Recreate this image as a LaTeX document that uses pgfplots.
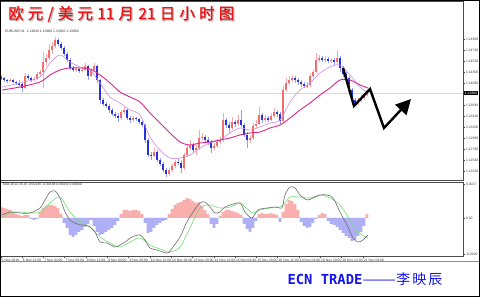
\documentclass[border=0pt]{standalone}
\usepackage{fontspec}
\setmainfont{Liberation Sans}
\newfontfamily\cjk{Noto Sans CJK SC}
\newfontfamily\cjktitle[FakeBold=1.2]{Noto Sans CJK SC}
\newfontfamily\ecnmono{DejaVu Sans Mono}
\usepackage{graphicx}
\usepackage{pgfplots}
\pgfplotsset{compat=1.18}
\usepackage{pgfplotstable}
\usetikzlibrary{arrows.meta}

\definecolor{upbody}{RGB}{242,110,110}
\definecolor{upwick}{RGB}{248,170,170}
\definecolor{dnbody}{RGB}{40,50,220}
\definecolor{dnwick}{RGB}{150,160,240}
\definecolor{mafast}{RGB}{210,140,230}
\definecolor{maslow}{RGB}{215,40,140}
\definecolor{hpos}{RGB}{250,175,175}
\definecolor{hneg}{RGB}{175,175,245}
\definecolor{macdgrey}{RGB}{110,110,110}
\definecolor{macdgreen}{RGB}{110,225,110}
\definecolor{bidline}{RGB}{250,200,200}
\definecolor{titlered}{RGB}{235,20,20}
\definecolor{ecnblue}{RGB}{20,20,235}

% rising candles: x open high low close
\pgfplotstableread{
x o h l c
10 1.1412 1.1418 1.1410 1.1414
25 1.1398 1.1428 1.1396 1.1422
34 1.1414 1.1420 1.1412 1.1416
37 1.1416 1.1430 1.1414 1.1426
40 1.1426 1.1434 1.1422 1.1430
43 1.1430 1.1470 1.1398 1.1450
46 1.1450 1.1466 1.1442 1.1458
49 1.1458 1.1486 1.1454 1.1474
52 1.1474 1.1490 1.1466 1.1482
55 1.1482 1.1500 1.1478 1.1494
76 1.1434 1.1440 1.1430 1.1436
82 1.1432 1.1438 1.1430 1.1434
85 1.1434 1.1448 1.1432 1.1442
91 1.1422 1.1438 1.1420 1.1434
94 1.1434 1.1448 1.1430 1.1442
121 1.1338 1.1354 1.1334 1.1350
124 1.1350 1.1360 1.1346 1.1354
133 1.1334 1.1342 1.1330 1.1338
154 1.1262 1.1278 1.1260 1.1270
169 1.1226 1.1238 1.1222 1.1234
172 1.1234 1.1246 1.1230 1.1242
175 1.1242 1.1254 1.1238 1.1250
184 1.1238 1.1268 1.1234 1.1264
187 1.1264 1.1284 1.1260 1.1278
190 1.1278 1.1294 1.1274 1.1284
196 1.1274 1.1284 1.1264 1.1278
199 1.1278 1.1314 1.1274 1.1298
202 1.1298 1.1308 1.1294 1.1300
214 1.1278 1.1288 1.1274 1.1282
217 1.1282 1.1296 1.1278 1.1290
220 1.1290 1.1300 1.1286 1.1294
223 1.1294 1.1348 1.1290 1.1334
232 1.1318 1.1340 1.1314 1.1330
238 1.1326 1.1344 1.1322 1.1334
250 1.1294 1.1304 1.1288 1.1298
253 1.1298 1.1328 1.1294 1.1322
256 1.1322 1.1334 1.1318 1.1326
259 1.1326 1.1360 1.1324 1.1344
265 1.1334 1.1344 1.1330 1.1338
271 1.1334 1.1348 1.1332 1.1342
274 1.1342 1.1358 1.1338 1.1350
283 1.1332 1.1402 1.1330 1.1394
286 1.1394 1.1418 1.1390 1.1408
289 1.1408 1.1422 1.1404 1.1414
292 1.1414 1.1424 1.1410 1.1418
307 1.1402 1.1410 1.1398 1.1404
310 1.1404 1.1428 1.1400 1.1422
313 1.1422 1.1434 1.1418 1.1430
316 1.1430 1.1468 1.1428 1.1454
319 1.1454 1.1464 1.1450 1.1458
325 1.1454 1.1460 1.1450 1.1456
331 1.1452 1.1458 1.1448 1.1454
337 1.1450 1.1474 1.1446 1.1458
358 1.1368 1.1378 1.1364 1.1374
361 1.1374 1.1384 1.1370 1.1378
364 1.1378 1.1388 1.1374 1.1384
367 1.1384 1.1390 1.1382 1.1388
}\upC

% falling candles: x open high low close
\pgfplotstableread{
x o h l c
1 1.1420 1.1424 1.1414 1.1418
4 1.1418 1.1420 1.1410 1.1414
7 1.1414 1.1416 1.1408 1.1412
13 1.1414 1.1416 1.1408 1.1410
16 1.1410 1.1412 1.1404 1.1408
19 1.1408 1.1414 1.1402 1.1406
22 1.1406 1.1408 1.1390 1.1398
28 1.1422 1.1426 1.1414 1.1418
31 1.1418 1.1420 1.1410 1.1414
58 1.1494 1.1498 1.1482 1.1486
61 1.1486 1.1490 1.1474 1.1478
64 1.1478 1.1482 1.1462 1.1466
67 1.1466 1.1470 1.1450 1.1454
70 1.1454 1.1458 1.1434 1.1438
73 1.1438 1.1442 1.1430 1.1434
79 1.1436 1.1438 1.1428 1.1432
88 1.1442 1.1444 1.1414 1.1422
97 1.1442 1.1444 1.1408 1.1414
100 1.1414 1.1416 1.1366 1.1374
103 1.1374 1.1378 1.1362 1.1366
106 1.1366 1.1370 1.1358 1.1362
109 1.1362 1.1366 1.1348 1.1354
112 1.1354 1.1358 1.1342 1.1346
115 1.1346 1.1350 1.1338 1.1342
118 1.1342 1.1348 1.1330 1.1338
127 1.1354 1.1358 1.1334 1.1338
130 1.1338 1.1342 1.1328 1.1334
136 1.1338 1.1340 1.1332 1.1336
139 1.1336 1.1338 1.1326 1.1330
142 1.1330 1.1334 1.1320 1.1324
145 1.1324 1.1326 1.1288 1.1294
148 1.1294 1.1298 1.1260 1.1264
151 1.1264 1.1270 1.1254 1.1262
157 1.1270 1.1274 1.1250 1.1254
160 1.1254 1.1258 1.1242 1.1246
163 1.1246 1.1250 1.1230 1.1234
166 1.1234 1.1238 1.1220 1.1226
178 1.1250 1.1258 1.1244 1.1248
181 1.1248 1.1254 1.1228 1.1238
193 1.1284 1.1288 1.1268 1.1274
205 1.1300 1.1304 1.1288 1.1294
208 1.1294 1.1300 1.1284 1.1290
211 1.1290 1.1294 1.1268 1.1278
226 1.1334 1.1338 1.1318 1.1324
229 1.1324 1.1330 1.1308 1.1318
235 1.1330 1.1334 1.1320 1.1326
241 1.1334 1.1354 1.1320 1.1324
244 1.1324 1.1328 1.1300 1.1304
247 1.1304 1.1310 1.1278 1.1294
262 1.1344 1.1348 1.1328 1.1334
268 1.1338 1.1342 1.1330 1.1334
277 1.1350 1.1354 1.1340 1.1346
280 1.1346 1.1350 1.1326 1.1332
295 1.1418 1.1422 1.1408 1.1414
298 1.1414 1.1418 1.1404 1.1410
301 1.1410 1.1414 1.1400 1.1406
304 1.1406 1.1410 1.1398 1.1402
322 1.1458 1.1462 1.1450 1.1454
328 1.1456 1.1460 1.1448 1.1452
334 1.1454 1.1458 1.1444 1.1450
340 1.1458 1.1462 1.1430 1.1438
343 1.1438 1.1442 1.1420 1.1426
346 1.1426 1.1430 1.1414 1.1418
349 1.1418 1.1422 1.1390 1.1394
352 1.1394 1.1398 1.1368 1.1374
355 1.1374 1.1378 1.1364 1.1368
}\dnC

% MACD histogram
\pgfplotstableread{
x m
1 0.00088
4 0.0008
7 0.00072
10 0.00064
13 0.00048
16 0.00032
19 0.00024
22 0.00016
25 0.00024
28 0.00024
31 -0.00008
34 -0.00016
37 -0.00008
40 0.00048
43 0.0008
46 0.00096
49 0.00104
52 0.00104
55 0.00096
58 0.0008
61 0.00032
64 -0.0004
67 -0.0008
70 -0.00136
73 -0.00152
76 -0.00136
79 -0.00112
82 -0.00096
85 -0.00072
88 -0.00048
91 -0.00016
94 -0.00064
97 -0.00112
100 -0.00136
103 -0.00128
106 -0.00112
109 -0.00096
112 -0.0008
115 -0.00056
118 -0.00024
121 0.00032
124 0.00064
127 0.00064
130 0.00056
133 0.00064
136 0.00064
139 0.00056
142 0.00032
145 -0.0004
148 -0.0012
151 -0.00112
154 -0.0008
157 -0.00056
160 -0.0004
163 -0.00024
166 -0.00016
169 0.00032
172 0.00072
175 0.00104
178 0.0012
181 0.00128
184 0.00144
187 0.0016
190 0.00152
193 0.00136
196 0.0012
199 0.00128
202 0.00096
205 0.00064
208 0.00032
211 -0.00048
214 -0.0008
217 -0.00048
220 0.00016
223 0.00048
226 0.00064
229 0.00064
232 0.00056
235 0.00048
238 0.0004
241 0.00024
244 -0.00048
247 -0.00088
250 -0.00112
253 -0.0008
256 -0.00024
259 0.00032
262 0.0004
265 0.00032
268 0.00032
271 0.0004
274 0.00032
277 0.00024
280 -0.00032
283 0.00048
286 0.00112
289 0.00144
292 0.00136
295 0.00112
298 0.00064
301 -0.00032
304 -0.00064
307 -0.0008
310 -0.00072
313 -0.0004
316 -0.00008
319 0.00024
322 0.0004
325 0.00032
328 -0.00024
331 -0.00048
334 -0.00056
337 -0.00072
340 -0.00096
343 -0.0012
346 -0.00144
349 -0.0016
352 -0.00184
355 -0.00176
358 -0.00144
361 -0.00112
364 -0.00064
367 0.00032
}\histT

\newcommand\tinyfont{\fontsize{3.4}{3.8}\selectfont}
\newcommand\titletext{\fontsize{15.5}{16}\selectfont 欧\kern4.2pt 元\kern4.2pt /\kern4.2pt 美\kern4.2pt 元\kern4.2pt 11\kern4.2pt 月\kern4.2pt 21\kern4.2pt 日\kern4.2pt 小\kern4.2pt 时\kern4.2pt 图}

\begin{document}
\begin{tikzpicture}[x=1pt,y=1pt]
\path[use as bounding box] (0,0) rectangle (480,297);
\fill[white] (0,0) rectangle (480,297);

% ---------- price pane ----------
\begin{axis}[
  at={(0pt,117pt)}, anchor=south west,
  scale only axis, width=463pt, height=179pt,
  xmin=0, xmax=463, ymin=1.1214, ymax=1.1572,
  axis line style={black!70, line width=0.6pt},
  xtick=\empty,
  ytick={1.1496,1.1474,1.1452,1.1430,1.1408,1.1364,1.1342,1.1320,1.1298,1.1276,1.1254,1.1232},
  ytick pos=right, yticklabel pos=right,
  tick align=outside, major tick length=1.8pt,
  tick style={black!70, line width=0.4pt},
  yticklabel style={font=\tinyfont, text=black!75, inner sep=1pt,
    /pgf/number format/.cd, fixed, fixed zerofill, precision=5, assume math mode=true},
  scaled y ticks=false,
  candle/.style={mark=none, draw=none, forget plot, error bars/.cd, y dir=both, y explicit, error mark=none},
]
\addplot[bidline, line width=0.5pt, forget plot] coordinates {(0,1.1388) (463,1.1388)};
% wicks
\addplot[candle, error bar style={draw=upwick, line width=0.5pt}]
  table[x=x, y expr={(\thisrow{h}+\thisrow{l})/2}, y error expr={(\thisrow{h}-\thisrow{l})/2}] {\upC};
\addplot[candle, error bar style={draw=dnwick, line width=0.5pt}]
  table[x=x, y expr={(\thisrow{h}+\thisrow{l})/2}, y error expr={(\thisrow{h}-\thisrow{l})/2}] {\dnC};
% bodies
\addplot[candle, error bar style={draw=upbody, line width=2.3pt}]
  table[x=x, y expr={(\thisrow{o}+\thisrow{c})/2}, y error expr={(\thisrow{c}-\thisrow{o})/2}] {\upC};
\addplot[candle, error bar style={draw=dnbody, line width=2.3pt}]
  table[x=x, y expr={(\thisrow{o}+\thisrow{c})/2}, y error expr={(\thisrow{o}-\thisrow{c})/2}] {\dnC};
% moving averages
\addplot[mafast, line width=0.6pt, smooth] coordinates {
(2,1.1400) (20,1.1408) (40,1.1420) (50,1.1448) (60,1.1464) (70,1.1450) (80,1.1440)
(90,1.1434) (100,1.1408) (110,1.1380) (120,1.1368) (130,1.1354) (140,1.1344)
(150,1.1300) (160,1.1274) (170,1.1258) (180,1.1258) (190,1.1264) (200,1.1278)
(210,1.1288) (220,1.1294) (230,1.1308) (240,1.1318) (250,1.1314) (260,1.1320)
(270,1.1328) (280,1.1334) (290,1.1370) (300,1.1394) (310,1.1408) (320,1.1428)
(330,1.1440) (340,1.1444) (350,1.1424) (360,1.1400) (368,1.1388)};
\addplot[maslow, line width=0.9pt, smooth] coordinates {
(2,1.1394) (20,1.1400) (40,1.1410) (50,1.1424) (60,1.1434) (70,1.1438) (80,1.1438)
(90,1.1436) (100,1.1424) (110,1.1408) (120,1.1390) (130,1.1380) (140,1.1370)
(150,1.1348) (160,1.1328) (170,1.1308) (180,1.1290) (190,1.1284) (200,1.1288)
(210,1.1290) (220,1.1294) (230,1.1298) (240,1.1304) (250,1.1308) (260,1.1310)
(270,1.1318) (280,1.1324) (290,1.1338) (300,1.1354) (310,1.1368) (320,1.1384)
(330,1.1398) (340,1.1414) (350,1.1414) (360,1.1404) (368,1.1398)};
% hand-drawn forecast arrow
\addplot[black, line width=2.4pt, line join=miter,
  -{Triangle[length=15pt, width=15pt]}] coordinates {
(343,1.1438) (354,1.1362) (370,1.1396) (384,1.1318) (411,1.1376)};
\end{axis}

% ---------- MACD pane ----------
\begin{axis}[
  at={(0pt,40.5pt)}, anchor=south west,
  scale only axis, width=463pt, height=74.5pt,
  xmin=0, xmax=463, ymin=-0.00308, ymax=0.00288,
  axis line style={black!70, line width=0.6pt},
  ytick={0.0027,0,-0.0029}, yticklabels={0.0027,0.00,-0.0029},
  scaled y ticks=false,
  ytick pos=right, yticklabel pos=right,
  xtick={0.7,22,43.3,64.6,85.9,107.2,128.5,149.8,171.1,192.4,213.7,235,256.3,277.6,298.9,320.2,341.5,362.8},
  xticklabels={5 Nov 2018,6 Nov 12:00,7 Nov 04:00,7 Nov 20:00,8 Nov 12:00,9 Nov 04:00,9 Nov 20:00,12 Nov 12:00,13 Nov 04:00,13 Nov 20:00,14 Nov 12:00,15 Nov 04:00,15 Nov 20:00,16 Nov 12:00,19 Nov 04:00,19 Nov 20:00,20 Nov 12:00,21 Nov 04:00},
  xtick pos=bottom,
  tick align=outside, major tick length=1.8pt,
  tick style={black!70, line width=0.4pt},
  xticklabel style={font=\tinyfont, text=black!75, anchor=north west, inner sep=0.8pt},
  yticklabel style={font=\tinyfont, text=black!75, inner sep=1pt},
]
\addplot[ybar, bar shift=0pt, bar width=2.6, fill=hpos, draw=none, forget plot]
  table[x=x, y expr={max(\thisrow{m},0)}] {\histT};
\addplot[ybar, bar shift=0pt, bar width=2.6, fill=hneg, draw=none, forget plot]
  table[x=x, y expr={min(\thisrow{m},0)}] {\histT};
\addplot[macdgreen, line width=0.6pt, smooth] coordinates {
(2,0) (10,0.0004) (20,0.00048) (30,0.0004) (40,0.00048) (50,0.0012) (60,0.00168)
(70,0.00048) (80,-0.00032) (90,-0.00072) (100,-0.00152) (110,-0.002) (120,-0.00232)
(130,-0.00192) (140,-0.0016) (150,-0.00216) (160,-0.00248) (170,-0.00272)
(180,-0.00232) (190,-0.0008) (200,0.0008) (210,0.00104) (220,0.0008) (230,0.00088)
(240,0.0012) (245,0.00088) (253,0.0004) (260,0.00064) (270,0.0008) (280,0.00088)
(285,0.0012) (290,0.00168) (300,0.00168) (310,0.0016) (320,0.00184) (330,0.0016)
(340,0.00104) (350,-0.00016) (358,-0.00112) (368,-0.0016)};
\addplot[macdgrey, line width=0.6pt, smooth] coordinates {
(2,0.00024) (10,0.00048) (20,0.0004) (30,0.0004) (40,0.0008) (45,0.00144) (50,0.00208)
(55,0.00216) (60,0.0016) (65,0.00048) (70,-0.00016) (75,-0.0004) (80,-0.00056)
(85,-0.00056) (90,-0.00072) (95,-0.00112) (100,-0.00192) (107,-0.002) (115,-0.00232)
(120,-0.00216) (125,-0.00192) (132,-0.00152) (140,-0.00136) (145,-0.00176)
(150,-0.0024) (157,-0.00256) (163,-0.00272) (168,-0.0028) (173,-0.00232)
(180,-0.00152) (187,-0.00032) (193,0.00048) (200,0.0012) (205,0.00128) (210,0.00088)
(215,0.0004) (220,0.00048) (225,0.00088) (230,0.00104) (240,0.0012) (245,0.00048)
(252,0) (258,0.00064) (267,0.0008) (277,0.00088) (282,0.0008) (285,0.00184)
(290,0.00248) (295,0.0024) (300,0.00184) (307,0.00144) (313,0.0016) (320,0.00184)
(327,0.00184) (333,0.0016) (340,0.00048) (347,-0.00056) (353,-0.0016)
(358,-0.00192) (363,-0.00176) (368,-0.00136)};
\end{axis}

% pane headers and current price box
\node[anchor=west, inner sep=0, font=\tinyfont, text=black!80] at (5,265.5) {EURUSD,H1\ \ 1.13840 1.13900 1.13820 1.13880};
\node[anchor=west, inner sep=0, font=\tinyfont, text=black!80] at (3,112.5) {MACD(12,26,9) -0.00136 -0.00168 0.00032 0.00000};
\node[anchor=west, fill=black, text=white, inner sep=0.7pt, font=\tinyfont] at (464,204) {1.13880};

% bottom separator
\draw[black!45, line width=0.6pt] (0,35.3) -- (480,35.3);

% title with shadow
\node[anchor=west, inner sep=0, text=black!25] at (9.2,281.8) {\cjktitle\titletext};
\node[anchor=west, inner sep=0, text=titlered] at (8,283) {\cjktitle\titletext};

% signature
\node[anchor=center, inner sep=0, text=ecnblue] at (365,17.5)
  {\ecnmono\bfseries\fontsize{13.8}{14}\selectfont ECN TRADE\cjk\mdseries\fontsize{14}{14}\selectfont\scalebox{1.45}[1]{——}李\kern2pt 映\kern2pt 辰};

% outer frame
\draw[black, line width=1pt] (0.5,0.5) rectangle (479.5,296.5);
\end{tikzpicture}
\end{document}
